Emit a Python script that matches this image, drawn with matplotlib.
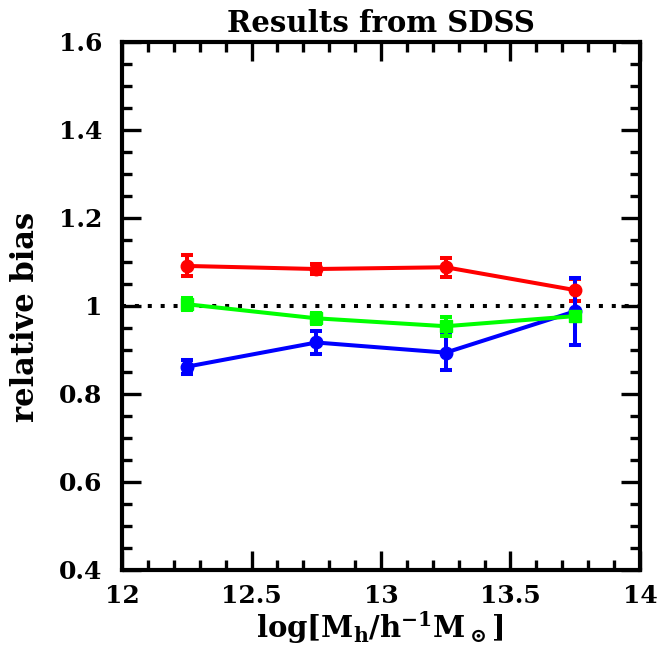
import numpy as np
import matplotlib
matplotlib.use("Agg")
import matplotlib.pyplot as plt
from matplotlib.ticker import MultipleLocator

plt.rcParams["font.family"] = "DejaVu Serif"
plt.rcParams["font.weight"] = "bold"
plt.rcParams["mathtext.fontset"] = "dejavuserif"

logM = [12.25, 12.75, 13.25, 13.75]

red_y = [1.091, 1.084, 1.088, 1.036]
red_err = [0.024, 0.011, 0.022, 0.025]

green_y = [1.004, 0.972, 0.954, 0.977]
green_err = [0.014, 0.012, 0.022, 0.012]

blue_y = [0.862, 0.917, 0.894, 0.988]
blue_err = [0.016, 0.026, 0.039, 0.076]

fig = plt.figure(figsize=(6.61, 6.62), dpi=100)
ax = fig.add_axes([0.1846, 0.139, 0.7836, 0.7976])

ax.axhline(1.0, color="black", ls=(0, (1, 2.2)), lw=2.9, zorder=1)

style = dict(lw=2.9, elinewidth=2.9, capsize=4.5, capthick=2.9, markersize=9)
ax.errorbar(logM, red_y, yerr=red_err, color="#ff0000", marker="o", **style)
ax.errorbar(logM, blue_y, yerr=blue_err, color="#0000ff", marker="o", **style)
ax.errorbar(logM, green_y, yerr=green_err, color="#00ff00", marker="s", **style)

ax.set_xlim(12, 14)
ax.set_ylim(0.4, 1.6)
ax.xaxis.set_minor_locator(MultipleLocator(0.1))
ax.yaxis.set_minor_locator(MultipleLocator(0.05))
ax.set_xticks([12, 12.5, 13, 13.5, 14])
ax.set_xticklabels(["12", "12.5", "13", "13.5", "14"])
ax.set_yticks([0.4, 0.6, 0.8, 1.0, 1.2, 1.4, 1.6])
ax.set_yticklabels(["0.4", "0.6", "0.8", "1", "1.2", "1.4", "1.6"])

ax.tick_params(which="both", direction="in", top=True, right=True, width=2.4, labelsize=18)
ax.tick_params(axis="x", pad=10)
ax.tick_params(axis="y", pad=14)
ax.tick_params(which="major", length=14)
ax.tick_params(which="minor", length=7)
for s in ax.spines.values():
    s.set_linewidth(3)

ax.set_title("Results from SDSS", fontsize=21, fontweight="bold", pad=7)
ax.set_ylabel("relative bias", fontsize=22, fontweight="bold", va="center", ha="center")
ax.yaxis.set_label_coords(-0.187, 0.48)
ax.set_xlabel(r"log[M$_\mathbf{h}$/h$^\mathbf{-1}$M$_\odot$]", fontsize=21, fontweight="bold", va="center", ha="center")
ax.xaxis.set_label_coords(0.498, -0.11)

fig.savefig("out.png", dpi=100)
